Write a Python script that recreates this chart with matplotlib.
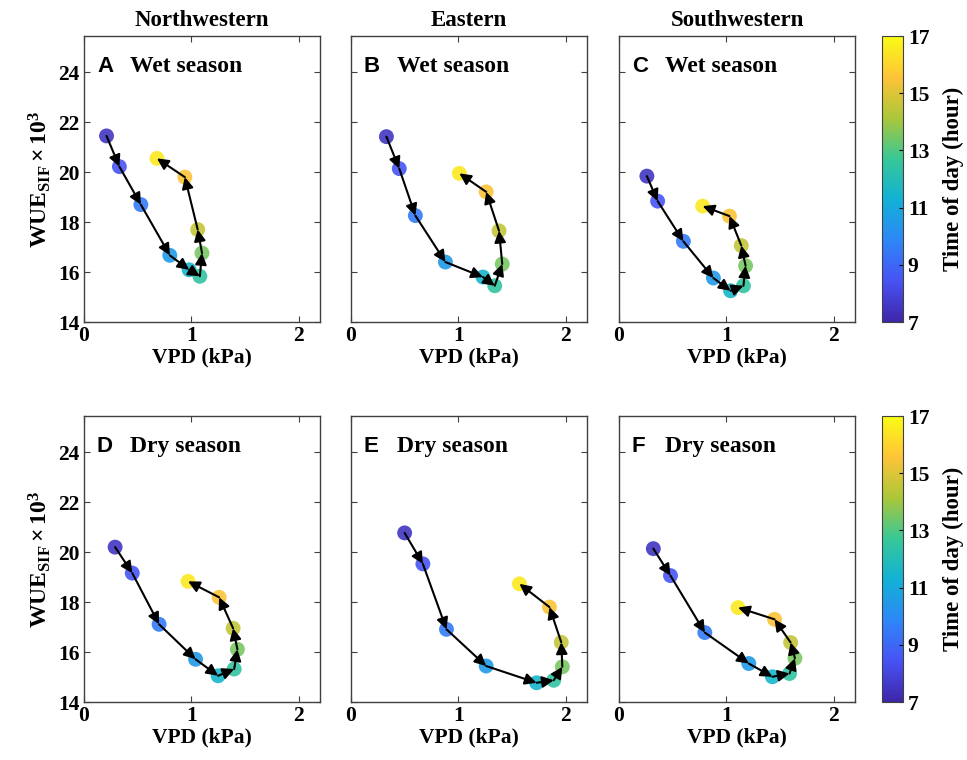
import numpy as np
import matplotlib
matplotlib.use('Agg')
import matplotlib.pyplot as plt
from matplotlib.colors import LinearSegmentedColormap, Normalize
from matplotlib.cm import ScalarMappable

plt.rcParams['font.family'] = 'Liberation Serif'
plt.rcParams['font.weight'] = 'bold'
plt.rcParams['mathtext.fontset'] = 'custom'
plt.rcParams['mathtext.rm'] = 'Liberation Serif:bold'
plt.rcParams['mathtext.bf'] = 'Liberation Serif:bold'
plt.rcParams['mathtext.it'] = 'Liberation Serif:bold:italic'

# hourly means, 7:30 ... 16:30
hours = [7.5, 8.5, 9.5, 10.5, 11.5, 12.5, 13.5, 14.5, 15.5, 16.5]

regions = ['Northwestern', 'Eastern', 'Southwestern']
letters = ['A', 'B', 'C', 'D', 'E', 'F']
seasons = ['Wet season', 'Dry season']

vpd_A = [0.21, 0.33, 0.53, 0.80, 0.98, 1.08, 1.10, 1.06, 0.94, 0.68]
wue_A = [21.45, 20.22, 18.70, 16.67, 16.09, 15.83, 16.76, 17.70, 19.80, 20.55]
vpd_B = [0.33, 0.45, 0.60, 0.88, 1.23, 1.34, 1.41, 1.38, 1.26, 1.01]
wue_B = [21.42, 20.14, 18.26, 16.40, 15.80, 15.45, 16.32, 17.65, 19.21, 19.95]
vpd_C = [0.26, 0.36, 0.60, 0.88, 1.04, 1.16, 1.18, 1.14, 1.03, 0.78]
wue_C = [19.84, 18.84, 17.23, 15.76, 15.25, 15.45, 16.25, 17.06, 18.24, 18.64]
vpd_D = [0.29, 0.45, 0.70, 1.04, 1.25, 1.40, 1.43, 1.39, 1.26, 0.97]
wue_D = [20.20, 19.16, 17.11, 15.71, 15.05, 15.32, 16.11, 16.95, 18.19, 18.83]
vpd_E = [0.50, 0.67, 0.89, 1.26, 1.73, 1.89, 1.97, 1.96, 1.85, 1.57]
wue_E = [20.77, 19.53, 16.91, 15.44, 14.77, 14.87, 15.41, 16.39, 17.80, 18.73]
vpd_F = [0.32, 0.48, 0.80, 1.21, 1.43, 1.59, 1.64, 1.60, 1.45, 1.11]
wue_F = [20.14, 19.06, 16.78, 15.54, 15.01, 15.14, 15.75, 16.38, 17.31, 17.78]

vpd_all = [vpd_A, vpd_B, vpd_C, vpd_D, vpd_E, vpd_F]
wue_all = [wue_A, wue_B, wue_C, wue_D, wue_E, wue_F]

# approximate MATLAB parula
parula = LinearSegmentedColormap.from_list('parula', [
    (0.2422, 0.1504, 0.6603), (0.2810, 0.3228, 0.9579), (0.1786, 0.5289, 0.9682),
    (0.0689, 0.6948, 0.8394), (0.2161, 0.7843, 0.5923), (0.6720, 0.7793, 0.2227),
    (0.9970, 0.7659, 0.2199), (0.9769, 0.9839, 0.0805)])
norm = Normalize(7, 17)

fig = plt.figure(figsize=(9.67, 7.6), dpi=100)

lefts = [84, 351, 619]
bottoms = [760 - 322, 760 - 702]
W, H = 236, 286

for r in range(2):
    for c in range(3):
        k = r * 3 + c
        ax = fig.add_axes([lefts[c] / 967, bottoms[r] / 760, W / 967, H / 760])
        x = vpd_all[k]
        y = wue_all[k]
        ax.scatter(x, y, c=hours, cmap=parula, norm=norm, s=115, alpha=0.9,
                   edgecolors='none', zorder=2)
        for i in range(len(x) - 1):
            ax.annotate('', xy=(x[i + 1], y[i + 1]), xytext=(x[i], y[i]),
                        arrowprops=dict(arrowstyle='-|>', color='k', lw=1.5,
                                        shrinkA=0, shrinkB=0, mutation_scale=17),
                        zorder=3)
        ax.set_xlim(0, 2.2)
        ax.set_ylim(14, 25.45)
        ax.set_xticks([0, 1, 2])
        ax.set_yticks([14, 16, 18, 20, 22, 24])
        ax.tick_params(direction='in', top=True, right=True, labelsize=15.5,
                       length=4, width=0.8, color='#404040', pad=3)
        for sp in ax.spines.values():
            sp.set_color('#404040')
            sp.set_linewidth(1.0)
        if c == 0:
            ax.set_ylabel(r'WUE$_{\mathrm{SIF}}\times\mathrm{10}^{3}$', fontsize=17,
                          fontweight='bold', labelpad=4)
        else:
            ax.set_yticklabels([])
        ax.set_xlabel('VPD (kPa)', fontsize=15.5, fontweight='bold', labelpad=1)
        if r == 0:
            ax.set_title(regions[c], fontsize=16.5, fontweight='bold', pad=7)
        ax.text(0.055, 0.895, letters[k], transform=ax.transAxes, fontsize=16,
                fontweight='bold', family='Liberation Sans', va='center', ha='left')
        ax.text(0.195, 0.895, seasons[r], transform=ax.transAxes, fontsize=17,
                fontweight='bold', va='center', ha='left')

    cax = fig.add_axes([882 / 967, bottoms[r] / 760, 21 / 967, H / 760])
    cb = fig.colorbar(ScalarMappable(norm=norm, cmap=parula), cax=cax)
    cb.set_ticks([7, 9, 11, 13, 15, 17])
    cb.ax.tick_params(labelsize=15.5, direction='in', length=3, width=0.8)
    cb.outline.set_edgecolor('#404040')
    cb.set_label('Time of day (hour)', fontsize=16.5, fontweight='bold', labelpad=10)

fig.savefig('out.png', dpi=100)
